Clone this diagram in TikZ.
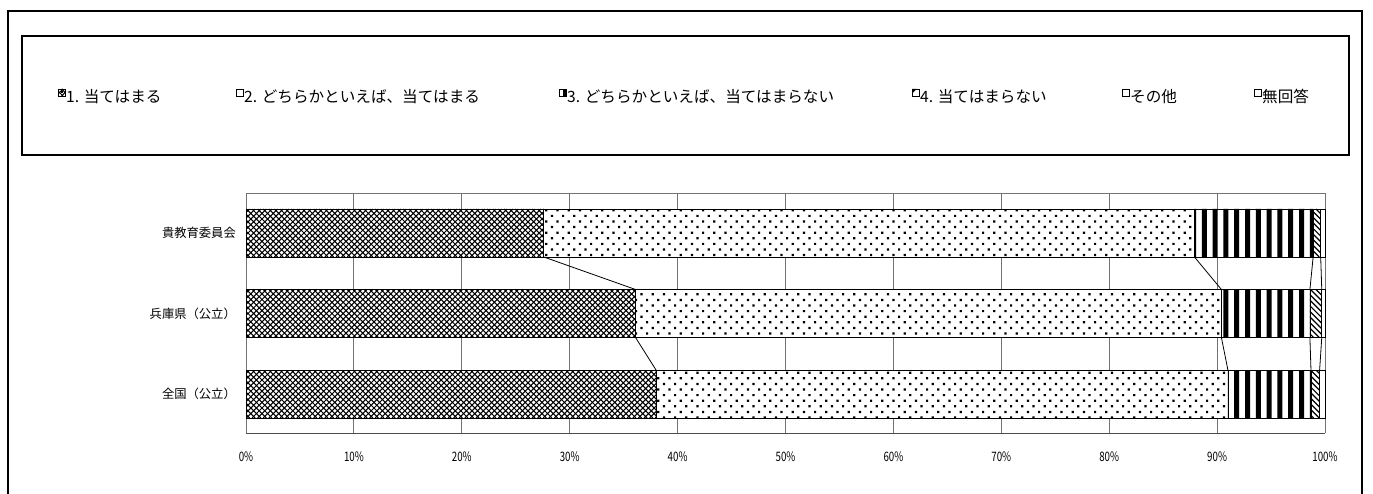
\documentclass[tikz,border=0pt]{standalone}
\usepackage{fontspec}
\setmainfont{Noto Sans CJK JP}

% explicit pattern fills (x1,y1,x2,y2 in picture units, y1<y2)
\newcommand\patX[4]{%
  \begin{scope}
  \clip (#1,#2) rectangle (#3,#4);
  \pgfmathsetmacro\pHh{#4-#2}
  \pgfmathtruncatemacro\pKs{floor((#1-\pHh)/5.6)-1}
  \pgfmathtruncatemacro\pKe{ceil(#3/5.6)+1}
  \draw[line width=1.05pt] \foreach \k in {\pKs,...,\pKe}{
    ({\k*5.6},#2) -- ++(\pHh,\pHh) ({\k*5.6},#4) -- ++(\pHh,-\pHh) };
  \end{scope}}
\newcommand\patD[4]{%
  \begin{scope}
  \clip (#1,#2) rectangle (#3,#4);
  \pgfmathtruncatemacro\pCs{floor(#1/11.2)-1}
  \pgfmathtruncatemacro\pCe{ceil(#3/11.2)}
  \pgfmathtruncatemacro\pRs{floor(#2/5.6)-1}
  \pgfmathtruncatemacro\pRe{ceil(#4/5.6)}
  \fill \foreach \r in {\pRs,...,\pRe}{ \foreach \c in {\pCs,...,\pCe}{
    ({\c*11.2+mod(\r,2)*5.6+2},{\r*5.6+2}) rectangle ++(2.2,2.2) } };
  \end{scope}}
\newcommand\patV[4]{%
  \begin{scope}
  \clip (#1,#2) rectangle (#3,#4);
  \pgfmathsetmacro\pHh{#4-#2}
  \pgfmathtruncatemacro\pCs{floor(#1/10.8)-1}
  \pgfmathtruncatemacro\pCe{ceil(#3/10.8)}
  \fill \foreach \c in {\pCs,...,\pCe}{ ({\c*10.8+3},#2) rectangle ++(5,\pHh) };
  \end{scope}}
\newcommand\patN[4]{%
  \begin{scope}
  \clip (#1,#2) rectangle (#3,#4);
  \pgfmathsetmacro\pHh{#4-#2}
  \pgfmathtruncatemacro\pKs{floor((#1-\pHh)/5.6)-1}
  \pgfmathtruncatemacro\pKe{ceil(#3/5.6)+1}
  \draw[line width=1.2pt] \foreach \k in {\pKs,...,\pKe}{
    ({\k*5.6},#2) -- ++(\pHh,\pHh) };
  \end{scope}}

\newcommand\mkbar[6]{%
  \pgfmathsetmacro\yB{#2+48}
  \foreach \k/\p in {0/0,1/#3,2/#4,3/#5,4/#6,5/100}{%
    \coordinate (#1t\k) at ({246+10.79*\p},#2);
    \coordinate (#1b\k) at ({246+10.79*\p},\yB);
  }
  \pgfmathsetmacro\xA{246+10.79*#3}
  \pgfmathsetmacro\xB{246+10.79*#4}
  \pgfmathsetmacro\xC{246+10.79*#5}
  \pgfmathsetmacro\xD{246+10.79*#6}
  \fill[white] (#1t0) rectangle (#1b5);
  \patX{246}{#2}{\xA}{\yB}
  \patD{\xA}{#2}{\xB}{\yB}
  \patV{\xB}{#2}{\xC}{\yB}
  \patN{\xC}{#2}{\xD}{\yB}
  \draw[barseg] (#1t0) rectangle (#1b1);
  \draw[barseg] (#1t1) rectangle (#1b2);
  \draw[barseg] (#1t2) rectangle (#1b3);
  \draw[barseg] (#1t3) rectangle (#1b4);
  \draw[barseg] (#1t4) rectangle (#1b5);
}

\begin{document}
\begin{tikzpicture}[x=1pt,y=-1pt,
  frame/.style={draw=black, line width=1.4pt},
  grid/.style={draw=black!55, line width=0.9pt},
  barseg/.style={draw=black, line width=0.8pt},
  serline/.style={draw=black, line width=0.8pt},
  legmark/.style={draw=black, line width=0.6pt},
  legtxt/.style={anchor=west, inner sep=0pt, font=\fontsize{15.6}{18}\selectfont},
  cattxt/.style={anchor=east, inner sep=0pt, font=\fontsize{12.3}{15}\selectfont},
  axtxt/.style={inner sep=0pt, font=\fontsize{13}{14}\selectfont, xscale=0.75}]
\useasboundingbox (0,0) rectangle (1373,494);
\fill[white] (0,0) rectangle (1373,494);

% outer frame (open at the bottom)
\coordinate (fbl) at (8,500);
\coordinate (ftl) at (8,11);
\coordinate (ftr) at (1362,11);
\coordinate (fbr) at (1362,500);
\draw[frame] (fbl) -- (ftl) -- (ftr) -- (fbr);

% legend box
\coordinate (lgA) at (22,36);
\coordinate (lgB) at (1349,155);
\draw[frame] (lgA) rectangle (lgB);

% legend entries
\patX{58}{89}{65}{96}
\draw[legmark] (58,89) rectangle (65,96);
\node[legtxt] (l1) at (66,96.5) {1. 当てはまる};
\fill (60.5,91.5) rectangle (62.5,93.5);
\draw[legmark] (236,89) rectangle (243,96);
\node[legtxt] (l2) at (244,96.5) {2. どちらかといえば、当てはまる};
\fill (562.5,89) rectangle (566,96);
\draw[legmark] (559,89) rectangle (566,96);
\node[legtxt] (l3) at (567,96.5) {3. どちらかといえば、当てはまらない};
\fill (912,89) -- (916.5,89) -- (912,93.5) -- cycle;
\draw[legmark] (912,89) rectangle (919,96);
\node[legtxt] (l4) at (920,96.5) {4. 当てはまらない};
\draw[legmark] (1122,89) rectangle (1129,96);
\node[legtxt] (l5) at (1130,96.5) {その他};
\draw[legmark] (1254,89) rectangle (1261,96);
\node[legtxt] (l6) at (1262,96.5) {無回答};

% plot area and grid
\foreach \i/\lab in {0/0\%,1/10\%,2/20\%,3/30\%,4/40\%,5/50\%,6/60\%,7/70\%,8/80\%,9/90\%,10/100\%}{
  \coordinate (gt\i) at ({246+107.9*\i},193);
  \coordinate (gb\i) at ({246+107.9*\i},433);
  \draw[grid] (gt\i) -- (gb\i);
  \node[axtxt] (ax\i) at ({246+107.9*\i},457) {\lab};
}
\draw[grid] (gt0) -- (gt10);
\draw[draw=black!70, line width=1pt] (gb0) -- (gb10);

% bars
\mkbar{ra}{209}{27.6}{87.9}{98.9}{99.6}
\mkbar{rb}{289.5}{36.1}{90.4}{98.6}{99.7}
\mkbar{rc}{370}{38.0}{91.0}{98.7}{99.5}

% series lines
\foreach \k in {1,...,4}{
  \draw[serline] (rab\k) -- (rbt\k);
  \draw[serline] (rbb\k) -- (rct\k);
}

% category labels
\node[cattxt] (c1) at (236,233) {貴教育委員会};
\node[cattxt] (c2) at (236,313.5) {兵庫県（公立）};
\node[cattxt] (c3) at (236,394) {全国（公立）};
\end{tikzpicture}
\end{document}
